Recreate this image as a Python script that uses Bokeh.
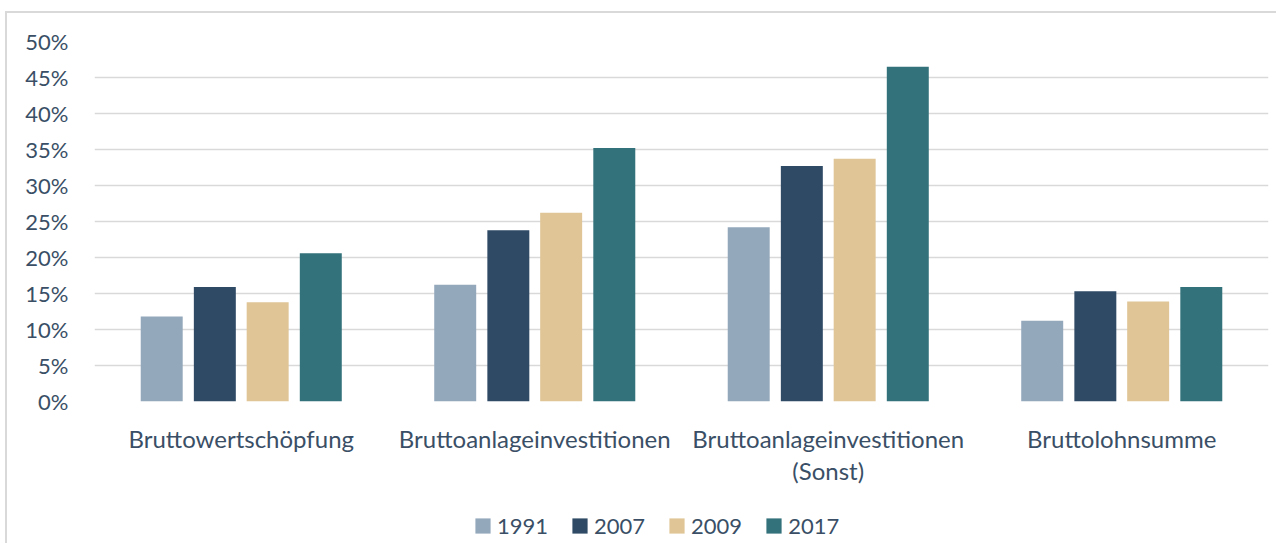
from bokeh.plotting import figure
from bokeh.layouts import column
from bokeh.models import ColumnDataSource, FixedTicker, NumeralTickFormatter, Legend, LegendItem, LinearAxis, Range1d
from bokeh.transform import dodge
from bokeh.embed import file_html
from bokeh.resources import INLINE

categories = ["Bruttowertschöpfung", "Bruttoanlageinvestitionen",
              "Bruttoanlageinvestitionen (Sonst)", "Bruttolohnsumme"]
label_line1 = ["Bruttowertschöpfung", "Bruttoanlageinvestitionen",
               "Bruttoanlageinvestitionen", "Bruttolohnsumme"]
label_line2 = ["", "", "(Sonst)", ""]
years = ["1991", "2007", "2009", "2017"]
v1991 = [0.118, 0.162, 0.242, 0.112]
v2007 = [0.159, 0.238, 0.327, 0.153]
v2009 = [0.138, 0.262, 0.337, 0.139]
v2017 = [0.206, 0.352, 0.465, 0.159]
colors = ["#94A8BC", "#2E4A65", "#E0C597", "#33727B"]
y_ticks = [0, 0.05, 0.10, 0.15, 0.20, 0.25, 0.30, 0.35, 0.40, 0.45, 0.50]

TEXT = "#3A4F66"
FONT = "Lato"

xpos = [i + 0.5 for i in range(len(categories))]
source = ColumnDataSource(data=dict(x=xpos, cat=categories, y1991=v1991, y2007=v2007,
                                    y2009=v2009, y2017=v2017))
fields = ["y1991", "y2007", "y2009", "y2017"]

p = figure(x_range=(0, len(categories)), y_range=(0, 0.5),
           width=1269, height=474, output_backend="svg", toolbar_location=None,
           min_border_left=87, min_border_right=8, min_border_top=28, min_border_bottom=85)
p.outline_line_color = None
p.background_fill_color = "white"
p.border_fill_color = "white"

offsets = [-0.271, -0.090, 0.090, 0.271]
for f, off, c in zip(fields, offsets, colors):
    p.vbar(x=dodge("x", off), top=f, width=0.143, source=source,
           fill_color=c, line_color=None)

p.xgrid.grid_line_color = None
p.ygrid.grid_line_color = "#d9d9d9"
p.ygrid.grid_line_width = 1.5
p.yaxis.ticker = FixedTicker(ticks=y_ticks)
p.yaxis.formatter = NumeralTickFormatter(format="0%")

p.xaxis.ticker = FixedTicker(ticks=xpos)
p.xaxis.major_label_overrides = {x: t for x, t in zip(xpos, label_line1)}
ax2 = LinearAxis(ticker=FixedTicker(ticks=xpos),
                 major_label_overrides={x: t for x, t in zip(xpos, label_line2)})
p.add_layout(ax2, "below")

for ax in (p.xaxis[0], p.yaxis[0], ax2):
    ax.axis_line_color = None
    ax.major_tick_line_color = None
    ax.minor_tick_line_color = None
    ax.major_tick_in = 0
    ax.major_tick_out = 0
    ax.major_label_text_font = FONT
    ax.major_label_text_font_size = "22px"
    ax.major_label_text_color = TEXT
for ax in (p.xaxis[0], ax2):
    ax.major_label_text_font_size = "24px"
p.yaxis.major_label_standoff = 26
p.xaxis[0].major_label_standoff = 22
ax2.major_label_standoff = 0

# legend strip (bars drawn out of view; only the legend shows)
pl = figure(width=1269, height=56, output_backend="svg", toolbar_location=None,
            x_range=Range1d(0, len(categories)), y_range=Range1d(10, 11),
            x_axis_location=None, y_axis_location=None,
            min_border_left=0, min_border_right=0, min_border_top=0, min_border_bottom=0)
pl.outline_line_color = None
pl.grid.grid_line_color = None
pl.border_fill_color = "white"
leg_renderers = [pl.vbar(x="x", top=f, width=0.1, source=source, fill_color=c, line_color=None)
                 for f, c in zip(fields, colors)]
legend = Legend(items=[LegendItem(label=y, renderers=[r]) for y, r in zip(years, leg_renderers)],
                orientation="horizontal", location=(379, 4))
legend.border_line_color = None
legend.background_fill_alpha = 0
legend.padding = 0
legend.margin = 0
legend.spacing = 22
legend.glyph_width = 19
legend.glyph_height = 19
legend.label_standoff = 5
legend.label_text_font = FONT
legend.label_text_font_size = "22px"
legend.label_text_color = TEXT
pl.add_layout(legend, "center")

layout = column(p, pl, spacing=0)
layout.styles = {"border-top": "2px solid #d9d9d9", "border-left": "2px solid #d9d9d9",
                 "margin-top": "11px", "margin-left": "5px"}

open("out.html", "w").write(file_html(layout, INLINE))
